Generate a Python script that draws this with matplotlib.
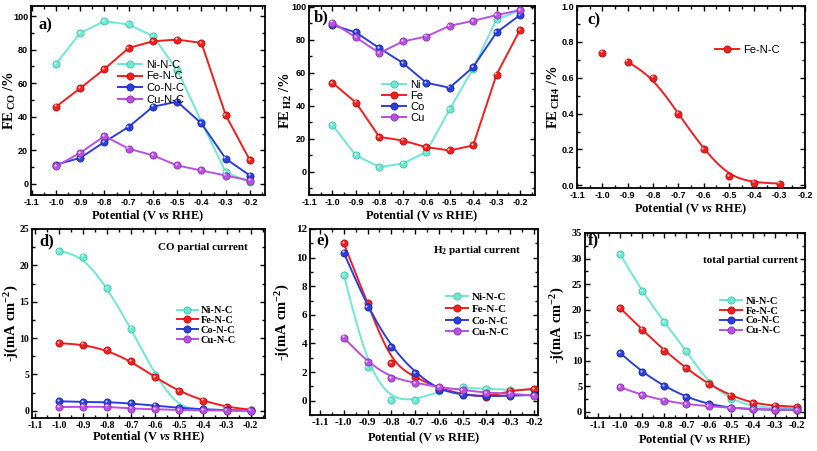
import numpy as np
import matplotlib
matplotlib.use('Agg')
import matplotlib.pyplot as plt
from matplotlib.ticker import MultipleLocator
from matplotlib.transforms import offset_copy

# potentials (V vs RHE)
pot = [-1.0, -0.9, -0.8, -0.7, -0.6, -0.5, -0.4, -0.3, -0.2]
pot_ch4 = [-1.0, -0.9, -0.8, -0.7, -0.6, -0.5, -0.4, -0.3]

# a) FE CO /%
fe_co_ni = [71.5, 90, 97, 95, 88, 68, 37, 7, 1]
fe_co_fe = [46, 57, 68.5, 81, 85, 86, 84, 41, 14]
fe_co_co = [11.5, 15.5, 25, 34, 46, 49, 36, 15, 5]
fe_co_cu = [10.5, 18.5, 28.5, 21, 17, 11, 8, 5, 2]

# b) FE H2 /%
fe_h2_ni = [28.3, 10, 3, 5, 12, 38, 62.5, 92.5, 97.8]
fe_h2_fe = [54, 42, 21.2, 19, 15, 13, 16, 59, 86]
fe_h2_co = [89, 84.5, 75, 66, 54, 51, 63.5, 84.5, 95]
fe_h2_cu = [90.5, 81.5, 72, 79, 82, 88.5, 91.5, 95, 98]

# c) FE CH4 /%
fe_ch4_fe = [0.74, 0.69, 0.60, 0.40, 0.20, 0.05, 0.015, 0.01]

# d) CO partial current
j_co_ni = [22.0, 21.2, 16.9, 11.3, 4.9, 0.3, 0.2, 0.1, 0.05]
j_co_fe = [9.3, 9.1, 8.3, 6.8, 4.6, 2.7, 1.4, 0.5, 0.15]
j_co_co = [1.3, 1.2, 1.2, 1.0, 0.7, 0.4, 0.2, 0.05, 0.02]
j_co_cu = [0.5, 0.55, 0.55, 0.3, 0.2, 0.1, 0.05, 0.02, 0.01]

# e) H2 partial current
j_h2_ni = [8.8, 2.33, 0.05, 0.05, 0.65, 0.93, 0.82, 0.77, 0.75]
j_h2_fe = [11.0, 6.8, 2.6, 1.65, 0.85, 0.45, 0.25, 0.7, 0.83]
j_h2_co = [10.35, 6.55, 3.75, 1.95, 0.75, 0.4, 0.3, 0.35, 0.4]
j_h2_cu = [4.4, 2.7, 1.6, 1.25, 0.95, 0.75, 0.55, 0.5, 0.35]

# f) total partial current
j_tot_ni = [30.8, 23.6, 17.5, 11.9, 5.6, 2.5, 1.0, 0.8, 0.7]
j_tot_fe = [20.3, 16.1, 12.0, 8.5, 5.4, 3.2, 1.7, 1.2, 1.0]
j_tot_co = [11.5, 7.8, 5.0, 2.9, 1.5, 0.8, 0.5, 0.4, 0.4]
j_tot_cu = [4.8, 3.3, 2.2, 1.5, 1.1, 0.8, 0.55, 0.45, 0.4]

labels_long = ['Ni-N-C', 'Fe-N-C', 'Co-N-C', 'Cu-N-C']
labels_short = ['Ni', 'Fe', 'Co', 'Cu']
colors = ['#6ce9d3', '#f31d1d', '#2b3ee0', '#b94fe3']
edges = ['#3fb7a2', '#b00d0d', '#142290', '#7d2aa6']

plt.rcParams['mathtext.fontset'] = 'custom'
plt.rcParams['mathtext.rm'] = 'Liberation Serif:bold'
plt.rcParams['mathtext.it'] = 'Liberation Serif:italic:bold'
plt.rcParams['mathtext.bf'] = 'Liberation Serif:bold'

serif = {'family': 'Liberation Serif', 'weight': 'bold'}
sans = {'family': 'Liberation Sans', 'weight': 'bold'}


def bspline(x, y, n=25):
    # uniform cubic B-spline using the points as control points (Origin style)
    pts = np.column_stack([x, y]).astype(float)
    p = np.vstack([2 * pts[0] - pts[1], pts, 2 * pts[-1] - pts[-2]])
    t = np.linspace(0, 1, n)[:, None]
    b0 = (1 - t)**3 / 6
    b1 = (3 * t**3 - 6 * t**2 + 4) / 6
    b2 = (-3 * t**3 + 3 * t**2 + 3 * t + 1) / 6
    b3 = t**3 / 6
    segs = [b0 * p[i] + b1 * p[i + 1] + b2 * p[i + 2] + b3 * p[i + 3]
            for i in range(len(p) - 3)]
    c = np.vstack(segs)
    return c[:, 0], c[:, 1]


def series(ax, x, y, k, label, smooth=False, line_x=None, line_y=None):
    if smooth:
        lx, ly = bspline(line_x if line_x is not None else x,
                         line_y if line_y is not None else y)
    else:
        lx, ly = x, y
    ax.plot(lx, ly, color=colors[k], lw=1.4, zorder=2 + k)
    ax.plot(x, y, 'o', color=colors[k], mec=edges[k], mew=0.5, ms=5.2, zorder=2 + k)
    hl = offset_copy(ax.transData, fig=ax.figure, x=-0.9, y=0.9, units='points')
    ax.plot(x, y, 'o', color='white', alpha=0.75, ms=1.6, mew=0, transform=hl, zorder=2 + k)
    # legend proxy
    ax.plot([], [], '-o', color=colors[k], mec=edges[k], mew=0.5, ms=5.2, lw=1.4, label=label)


def style(ax, xlim, ylim, ymaj, ymin, tickfont, ticksize, xlpad, ylx, yfmt=None):
    ax.set_xlim(*xlim)
    ax.set_ylim(*ylim)
    ax.xaxis.set_major_locator(MultipleLocator(0.1))
    ax.xaxis.set_minor_locator(MultipleLocator(0.05))
    ax.yaxis.set_major_locator(MultipleLocator(ymaj))
    ax.yaxis.set_minor_locator(MultipleLocator(ymin))
    ax.xaxis.set_major_formatter(plt.FuncFormatter(lambda v, p: f'{v:.1f}'))
    if yfmt:
        ax.yaxis.set_major_formatter(plt.FuncFormatter(yfmt))
    ax.tick_params(which='both', direction='in', top=True, right=True, width=1.0)
    ax.tick_params(which='major', length=3.5, pad=2)
    ax.tick_params(which='minor', length=2)
    for sp in ax.spines.values():
        sp.set_linewidth(1.3)
    for lab in ax.get_xticklabels() + ax.get_yticklabels():
        lab.set_fontfamily(tickfont['family'])
        lab.set_fontweight('bold')
        lab.set_fontsize(ticksize)
    ax.set_xlabel(r'Potential (V $\mathit{vs}$ RHE)', fontsize=9, labelpad=xlpad, **serif)
    ax.yaxis.set_label_coords(ylx, 0.5)


fig = plt.figure(figsize=(8.17, 4.51), dpi=100)
W, H = 817, 451


def add_axes(l, t, r, b):
    return fig.add_axes([l / W, 1 - b / H, (r - l) / W, (b - t) / H])


# ---- a) FE CO
ax = add_axes(31, 6, 265, 195)
for k, y in enumerate([fe_co_ni, fe_co_fe, fe_co_co, fe_co_cu]):
    series(ax, pot, y, k, labels_long[k])
ax.set_ylabel(r'FE$_{\,\mathrm{CO}}$ /%', fontsize=10.5, va='center', **serif)
style(ax, (-1.103, -0.138), (-6.6, 106), 20, 10, sans, 6.5, 1, -0.09)
ax.legend(loc='upper left', bbox_to_anchor=(0.35, 0.745), frameon=False, borderpad=0,
          handlelength=2.1, handletextpad=0.4, labelspacing=0.15,
          prop={'family': 'Liberation Sans', 'size': 8})
ax.text(0.03, 0.90, 'a)', transform=ax.transAxes, fontsize=12, va='center', **serif)

# ---- b) FE H2
ax = add_axes(309, 6, 535, 195)
for k, y in enumerate([fe_h2_ni, fe_h2_fe, fe_h2_co, fe_h2_cu]):
    series(ax, pot, y, k, labels_short[k])
ax.set_ylabel(r'FE$_{\,\mathrm{H2}}$ /%', fontsize=10.5, va='center', **serif)
style(ax, (-1.1, -0.136), (-14, 100.5), 20, 10, sans, 6.5, 1, -0.10)
ax.legend(loc='upper left', bbox_to_anchor=(0.30, 0.64), frameon=False, borderpad=0,
          handlelength=2.1, handletextpad=0.4, labelspacing=0.1,
          prop={'family': 'Liberation Sans', 'size': 8})
ax.text(0.02, 0.94, 'b)', transform=ax.transAxes, fontsize=12, va='center', **serif)

# ---- c) FE CH4
ax = add_axes(577, 6, 805, 188)
series(ax, pot_ch4, fe_ch4_fe, 1, 'Fe-N-C', smooth=True,
       line_x=pot_ch4[1:], line_y=fe_ch4_fe[1:])
ax.set_ylabel(r'FE$_{\,\mathrm{CH4}}$ /%', fontsize=10.5, va='center', **serif)
style(ax, (-1.1, -0.2), (-0.015, 1.0), 0.2, 0.1, sans, 6.5, 1, -0.1,
      yfmt=lambda v, p: f'{v:.1f}')
ax.legend(loc='upper left', bbox_to_anchor=(0.583, 0.815), frameon=False, borderpad=0,
          handlelength=2.1, handletextpad=0.4,
          prop={'family': 'Liberation Sans', 'size': 8})
ax.text(0.045, 0.92, 'c)', transform=ax.transAxes, fontsize=12, va='center', **serif)

# ---- d) CO partial current
ax = add_axes(32, 229, 265, 418)
for k, y in enumerate([j_co_ni, j_co_fe, j_co_co, j_co_cu]):
    series(ax, pot, y, k, labels_long[k], smooth=True)
ax.set_ylabel(r'-j(mA cm$^{-2}$)', fontsize=10.5, va='center', **serif)
style(ax, (-1.114, -0.14), (-1, 25), 5, 2.5, serif, 7, -0.5, -0.086)
ax.legend(loc='upper left', bbox_to_anchor=(0.6, 0.62), frameon=False, borderpad=0,
          handlelength=2.0, handletextpad=0.3, labelspacing=0.05,
          prop={'family': 'Liberation Serif', 'weight': 'bold', 'size': 7.5})
ax.text(0.54, 0.90, 'CO partial current', transform=ax.transAxes, fontsize=8, va='center', **serif)
ax.text(0.03, 0.935, 'd)', transform=ax.transAxes, fontsize=12, va='center', **serif)

# ---- e) H2 partial current
ax = add_axes(310, 229, 538, 415)
for k, y in enumerate([j_h2_ni, j_h2_fe, j_h2_co, j_h2_cu]):
    series(ax, pot, y, k, labels_long[k], smooth=True)
ax.set_ylabel(r'-j(mA cm$^{-2}$)', fontsize=10.5, va='center', **serif)
style(ax, (-1.142, -0.183), (-1, 12), 2, 1, serif, 8, 2.5, -0.118)
ax.legend(loc='upper left', bbox_to_anchor=(0.57, 0.69), frameon=False, borderpad=0,
          handlelength=2.0, handletextpad=0.35, labelspacing=0.18,
          prop={'family': 'Liberation Serif', 'weight': 'bold', 'size': 8})
ax.text(0.54, 0.887, r'H$_2$ partial current', transform=ax.transAxes, fontsize=8,
        va='center', **serif)
ax.text(0.03, 0.935, 'e)', transform=ax.transAxes, fontsize=12, va='center', **serif)

# ---- f) total partial current
ax = add_axes(585, 233, 805, 418)
for k, y in enumerate([j_tot_ni, j_tot_fe, j_tot_co, j_tot_cu]):
    series(ax, pot, y, k, labels_long[k], smooth=True)
ax.set_ylabel(r'-j(mA cm$^{-2}$)', fontsize=10.5, va='center', **serif)
style(ax, (-1.159, -0.164), (-1.2, 35), 5, 2.5, serif, 7.5, 2, -0.123)
ax.legend(loc='upper left', bbox_to_anchor=(0.59, 0.685), frameon=False, borderpad=0,
          handlelength=2.1, handletextpad=0.35, labelspacing=0.05,
          prop={'family': 'Liberation Serif', 'weight': 'bold', 'size': 7.5})
ax.text(0.536, 0.85, 'total partial current', transform=ax.transAxes, fontsize=8,
        va='center', **serif)
ax.text(0.015, 0.96, 'f)', transform=ax.transAxes, fontsize=12, va='center', **serif)

fig.savefig('out.png', dpi=100)
